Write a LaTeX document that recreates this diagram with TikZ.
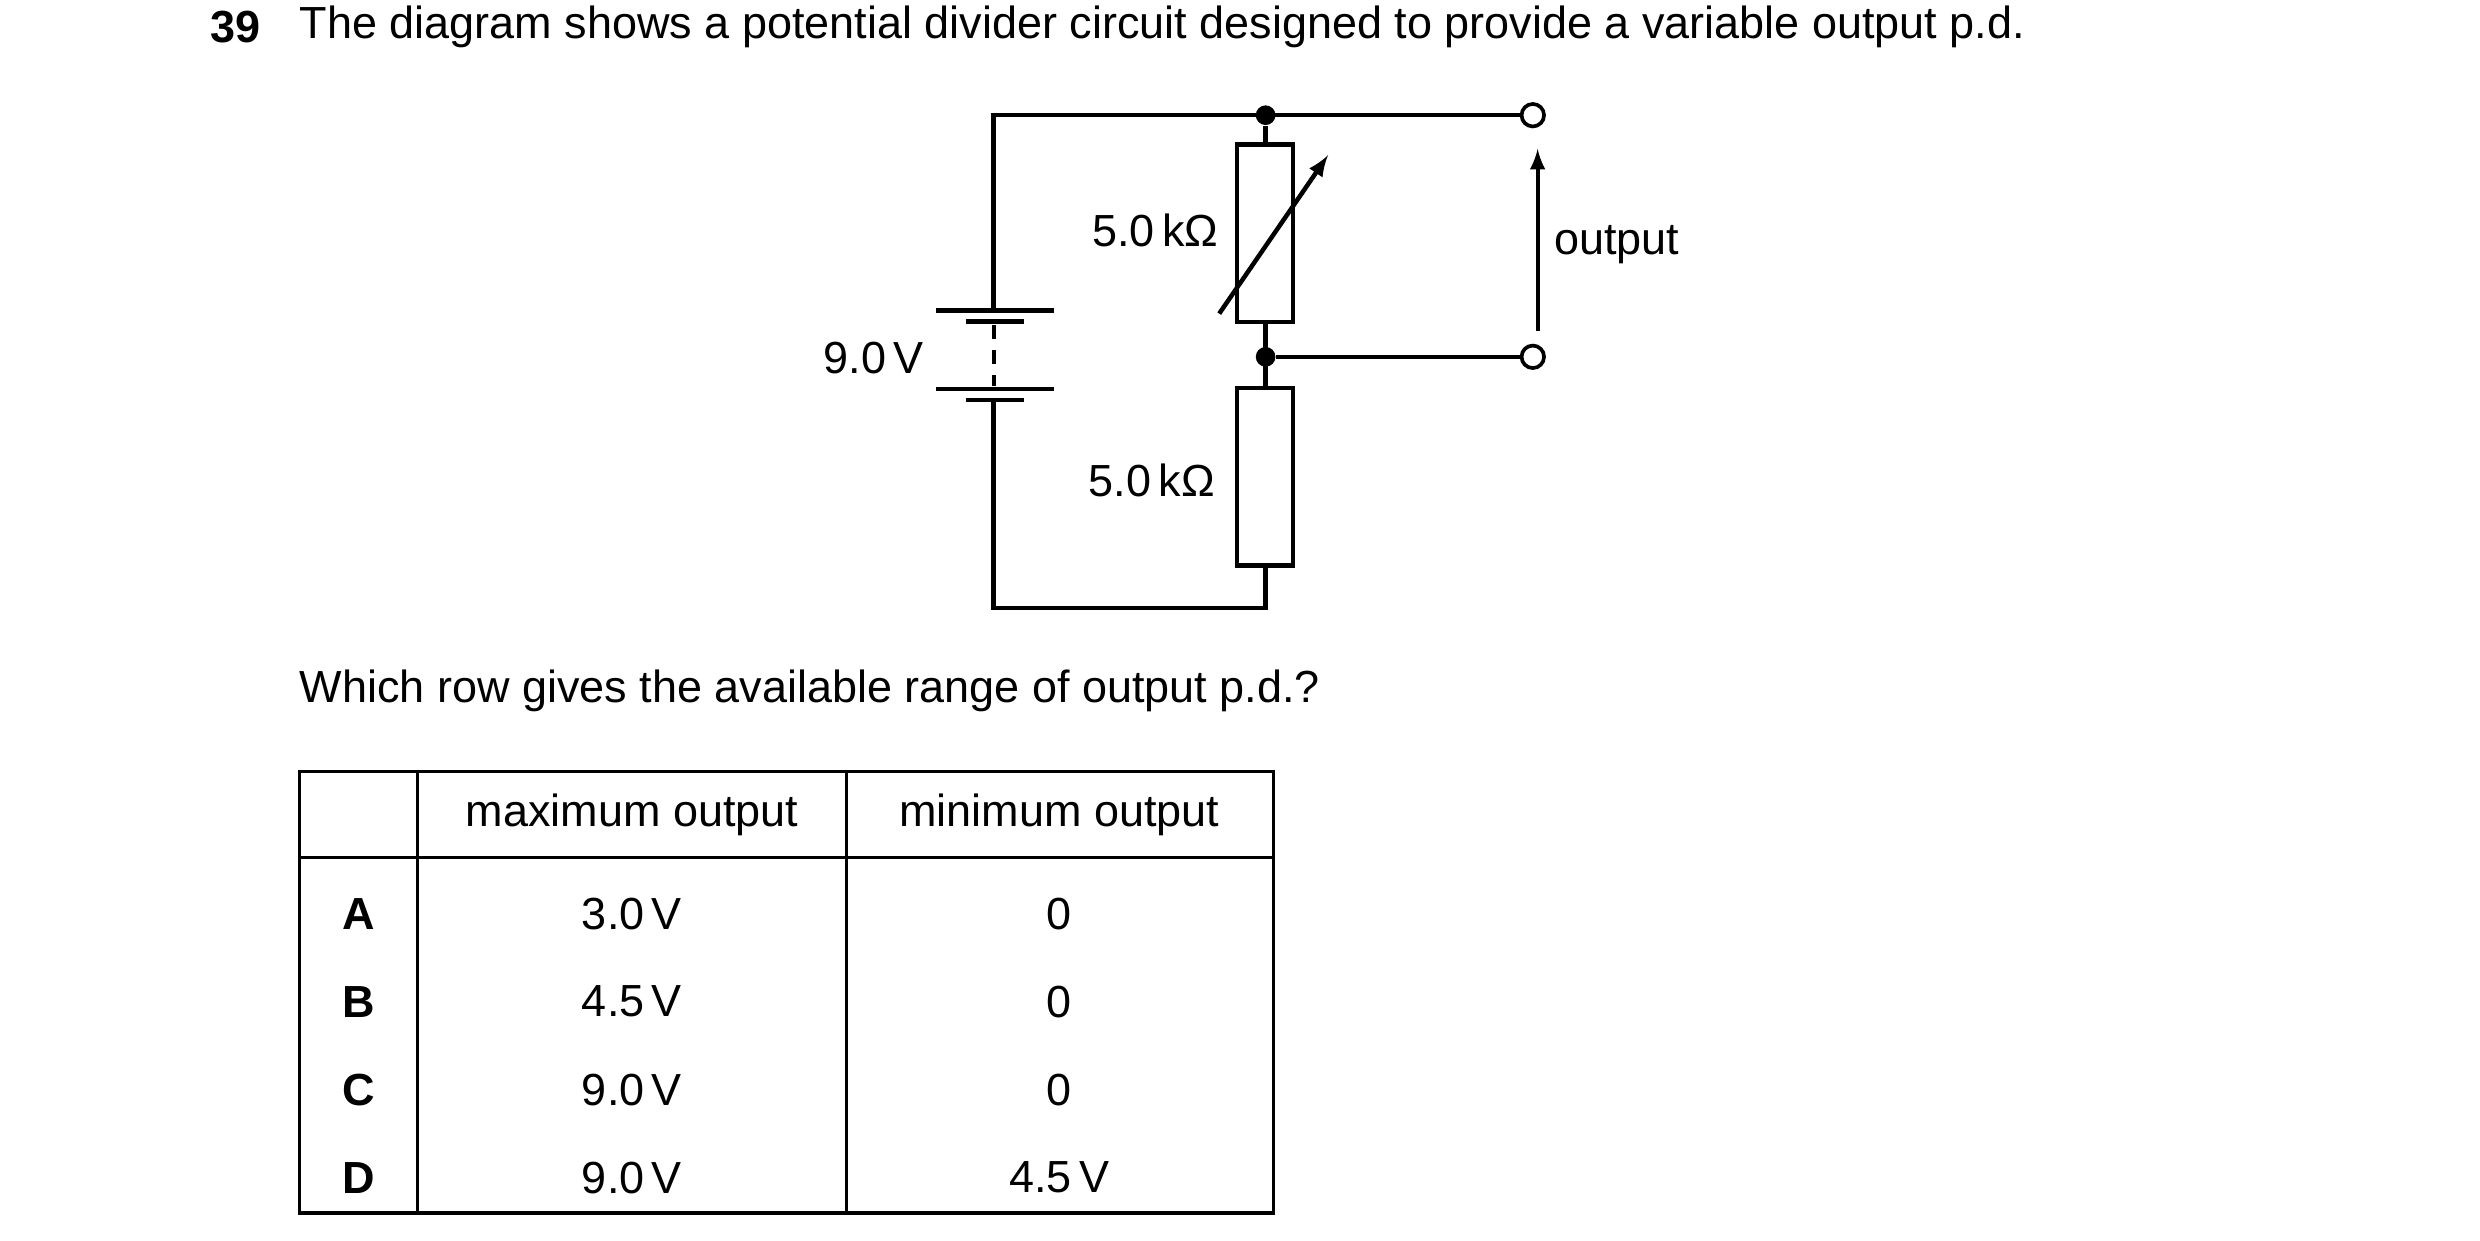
\documentclass[tikz,border=0pt]{standalone}
\usepackage{fontspec}
\setmainfont{Liberation Sans}
\begin{document}
\begin{tikzpicture}[x=0.02cm,y=-0.02cm,
  w/.style={line width=1.6pt},
  res/.style={draw,line width=1.6pt,fill=white},
  txt/.style={font=\fontsize{16}{19}\selectfont,inner sep=0pt},
  dot/.style={circle,fill=black,inner sep=0pt,minimum size=7pt},
  term/.style={circle,draw,fill=white,line width=1.3pt,inner sep=0pt,minimum size=8pt}]
\useasboundingbox (0,0) rectangle (1550,775);
\node[txt,anchor=west,font=\fontsize{16}{19}\selectfont\bfseries] (q) at (131,17) {39};
\node[txt,anchor=west] (t) at (187,17) {The diagram shows a potential divider circuit designed to provide a variable output p.d.};
% circuit
\coordinate (tl) at (621,72); \coordinate (bl) at (621,380); \coordinate (br) at (791,380);
\node[dot] (d1) at (791,72) {};
\node[dot] (d2) at (791,223) {};
\node[term] (o1) at (958,72) {};
\node[term] (o2) at (958,223) {};
\coordinate (b1) at (621,194); \coordinate (b4) at (621,250);
\draw[w] (b1) -- (tl) -- (o1.west);
\draw[w] (d2) -- (o2.west);
\draw[w] (b4) -- (bl) -- (br) -- (791,352);
\draw[w] (d1) -- (791,89);
\draw[w] (791,200) -- (791,241);
\node[res,minimum width=0.7cm,minimum height=2.22cm,anchor=north,inner sep=0pt] (r1) at (790.5,89) {};
\node[res,minimum width=0.7cm,minimum height=2.22cm,anchor=north,inner sep=0pt] (r2) at (790.5,241) {};
\coordinate (va) at (762,196); \coordinate (vb) at (830,97);
\draw[w,-latex] (va) -- (vb);
% battery
\draw[w] (585,194) -- (659,194);
\draw[w] (604,201) -- (640,201);
\draw[w] (585,243) -- (659,243);
\draw[w] (604,250) -- (640,250);
\draw[line width=1.4pt,dash pattern=on 5pt off 4pt] (621,203) -- (621,241);
% output arrow
\coordinate (oa) at (961,207); \coordinate (ob) at (961,93);
\draw[line width=1.5pt,-latex] (oa) -- (ob);
\node[txt] (l1) at (722,144) {5.0\,kΩ};
\node[txt] (l2) at (720,300) {5.0\,kΩ};
\node[txt] (l3) at (546,224) {9.0\,V};
\node[txt,anchor=west] (l4) at (971,153) {output};
\node[txt,anchor=west] (qq) at (187,432) {Which row gives the available range of output p.d.?};
% table
\draw[line width=1.2pt] (187,482) rectangle (796,758);
\draw[line width=1.2pt] (187,536) -- (796,536);
\draw[line width=1.2pt] (261,482) -- (261,758);
\draw[line width=1.2pt] (529,482) -- (529,758);
\node[txt] (h1) at (395,509) {maximum output};
\node[txt] (h2) at (662,509) {minimum output};
\foreach \l/\a/\b/\y in {A/3.0\,V/0/571,B/4.5\,V/0/626,C/9.0\,V/0/681,D/9.0\,V/4.5\,V/736}{
  \node[txt,font=\fontsize{16}{19}\selectfont\bfseries] at (224,\y) {\l};
  \node[txt] at (395,\y) {\a};
  \node[txt] at (662,\y) {\b};
}
\end{tikzpicture}
\end{document}
